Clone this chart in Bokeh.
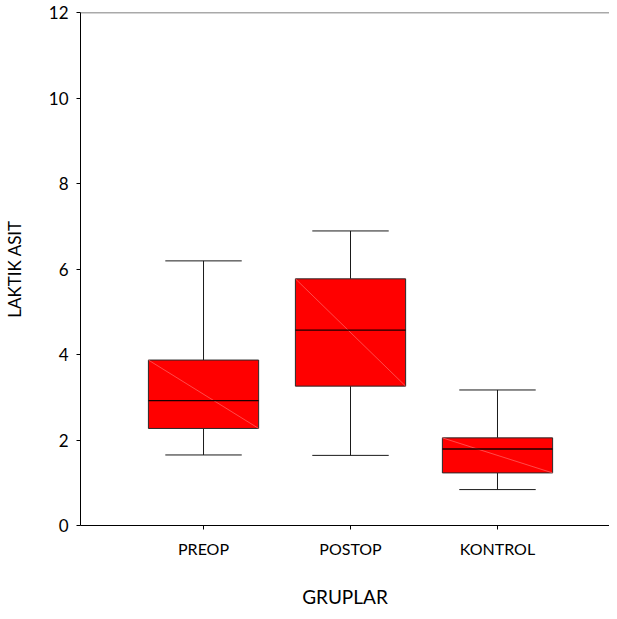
from bokeh.plotting import figure
from bokeh.models import Range1d, FixedTicker, Span, ColumnDataSource
from bokeh.embed import file_html
from bokeh.resources import INLINE

groups = ["PREOP", "POSTOP", "KONTROL"]
xpos = [1, 2, 3]
whisker_low = [1.65, 1.64, 0.84]
q1 = [2.27, 3.26, 1.23]
median = [2.92, 4.57, 1.79]
q3 = [3.87, 5.77, 2.05]
whisker_high = [6.19, 6.89, 3.17]
y_ticks = [0, 2, 4, 6, 8, 10, 12]

BOX_W = 0.75
CAP_W = 0.52
FONT = "Lato"

p = figure(width=609, height=611, output_backend="svg", toolbar_location=None,
           x_range=Range1d(0.163, 3.762), y_range=Range1d(0, 12),
           min_border_left=80, min_border_right=0, min_border_top=12, min_border_bottom=86)
p.outline_line_color = None
p.grid.grid_line_color = None

src = ColumnDataSource(dict(
    x=xpos, lo=whisker_low, q1=q1, med=median, q3=q3, hi=whisker_high,
    xl=[v - BOX_W / 2 for v in xpos], xr=[v + BOX_W / 2 for v in xpos],
    cl=[v - CAP_W / 2 for v in xpos], cr=[v + CAP_W / 2 for v in xpos],
))

# stems
p.segment(x0="x", y0="q3", x1="x", y1="hi", source=src, line_color="#1a1a1a", line_width=1)
p.segment(x0="x", y0="lo", x1="x", y1="q1", source=src, line_color="#1a1a1a", line_width=1)
# caps
p.segment(x0="cl", y0="hi", x1="cr", y1="hi", source=src, line_color="#1a1a1a", line_width=1)
p.segment(x0="cl", y0="lo", x1="cr", y1="lo", source=src, line_color="#1a1a1a", line_width=1)
# boxes
p.vbar(x="x", width=BOX_W, bottom="q1", top="q3", source=src,
       fill_color="#ff0000", line_color="#2a2a2a", line_width=1)
# faint diagonal
p.segment(x0="xl", y0="q3", x1="xr", y1="q1", source=src, line_color="#ff6a6a", line_width=0.7)
# median
p.segment(x0="xl", y0="med", x1="xr", y1="med", source=src, line_color="#1a0000", line_width=1.3)

# top line
p.add_layout(Span(location=12, dimension="width", line_color="#555555", line_width=1.5))

p.yaxis.ticker = FixedTicker(ticks=y_ticks)
p.xaxis.ticker = FixedTicker(ticks=xpos)
p.xaxis.major_label_overrides = {1: groups[0], 2: groups[1], 3: groups[2]}

for ax in (p.xaxis, p.yaxis):
    ax.axis_line_color = "black"
    ax.axis_line_width = 1
    ax.major_tick_line_color = "black"
    ax.major_tick_in = 0
    ax.major_tick_out = 4
    ax.minor_tick_line_color = None
    ax.major_label_text_font = FONT
    ax.major_label_text_color = "black"
    ax.axis_label_text_font = FONT
    ax.axis_label_text_font_style = "normal"
    ax.axis_label_text_color = "black"

p.yaxis.major_label_text_font_size = "17px"
p.xaxis.major_label_text_font_size = "16px"
p.yaxis.axis_label = "LAKTIK ASIT"
p.xaxis.axis_label = "GRUPLAR"
p.yaxis.axis_label_text_font_size = "17px"
p.xaxis.axis_label_text_font_size = "19px"
p.xaxis.major_label_standoff = 9
p.yaxis.major_label_standoff = 8
p.xaxis.axis_label_standoff = 24
p.yaxis.axis_label_standoff = 21

open("out.html", "w").write(file_html(p, INLINE))
